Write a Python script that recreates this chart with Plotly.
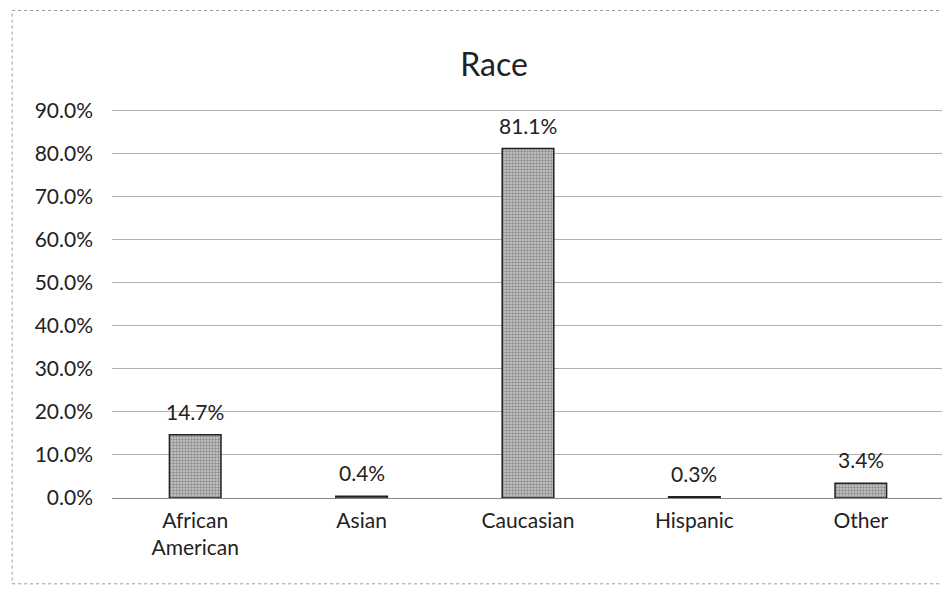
import plotly.graph_objects as go

categories = ["African<br>American", "Asian", "Caucasian", "Hispanic", "Other"]
values = [14.7, 0.4, 81.1, 0.3, 3.4]
labels = ["14.7%", "0.4%", "81.1%", "0.3%", "3.4%"]
tick_vals = [0, 10, 20, 30, 40, 50, 60, 70, 80, 90]
tick_text = ["0.0%", "10.0%", "20.0%", "30.0%", "40.0%", "50.0%", "60.0%", "70.0%", "80.0%", "90.0%"]

FONT = "Lato, Open Sans, sans-serif"

fig = go.Figure(go.Bar(
    x=categories, y=values,
    width=0.31,
    marker=dict(color="#b0b0b0", line=dict(color="#222", width=1.5),
                pattern=dict(shape=".", fgcolor="#4a4a4a", bgcolor="#cccccc", size=3, solidity=0.5)),
))

for c, v, t in zip(categories, values, labels):
    fig.add_annotation(x=c, y=v, text=t, showarrow=False, yanchor="bottom", yshift=9,
                       font=dict(size=21, color="#222"))

fig.update_layout(
    width=950, height=595,
    margin=dict(l=104, r=14, t=100, b=105),
    paper_bgcolor="white", plot_bgcolor="white",
    font=dict(family=FONT, size=21, color="#222"),
    title=dict(text="Race", x=0.5116, xanchor="center", y=0.904, yanchor="middle",
               font=dict(size=32, color="#222")),
    showlegend=False,
    xaxis=dict(showgrid=False, showline=False, ticks="", tickfont=dict(size=21), ticklabelstandoff=8),
    yaxis=dict(range=[0, 90.5], tickvals=tick_vals, ticktext=tick_text,
               showgrid=True, gridcolor="#b0b0b0", gridwidth=1,
               zeroline=True, zerolinecolor="#888", zerolinewidth=1,
               showline=False, ticks="", tickfont=dict(size=21), ticklabelstandoff=18),
    shapes=[dict(type="rect", xref="paper", yref="paper", x0=-0.12, x1=1.03, y0=-0.22, y1=1.25,
                 line=dict(color="#999", width=1, dash="dot"))],
)

fig.write_html("out.html")
